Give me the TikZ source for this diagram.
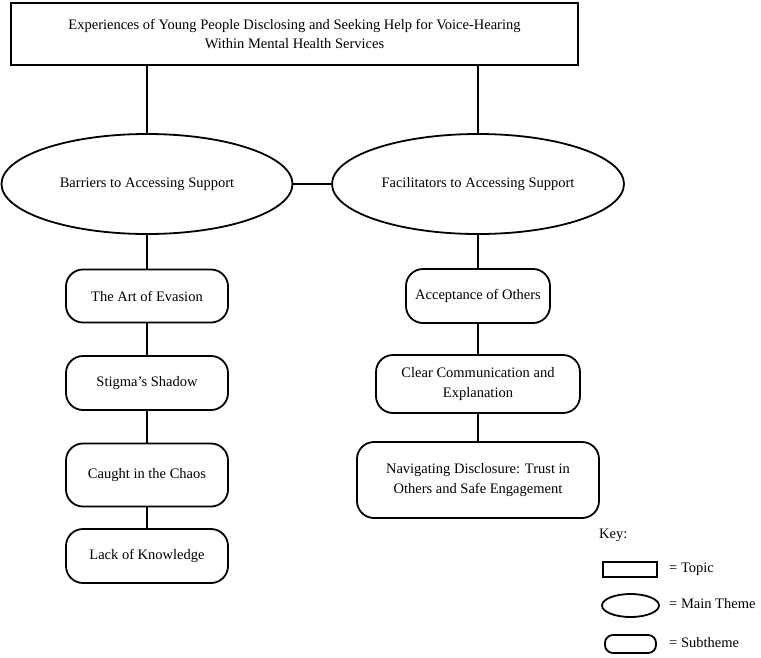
\documentclass[tikz,border=0pt]{standalone}
\usepackage{fontspec}
\setmainfont{Liberation Serif}
\usetikzlibrary{shapes.geometric}
\begin{document}
\begin{tikzpicture}[x=1pt,y=-1pt,
  every node/.style={font=\fontsize{14.5}{19.5}\selectfont, align=center, inner sep=0pt},
  ln/.style={line width=2pt},
  topic/.style={draw, line width=2pt, rectangle},
  mainth/.style={draw, line width=1.8pt, ellipse},
  subth/.style={draw, line width=1.8pt, rectangle, rounded corners=17pt},
  keyrect/.style={draw, line width=1.8pt, rectangle, minimum width=54pt, minimum height=15pt},
  keyell/.style={draw, line width=1.8pt, ellipse, minimum width=57pt, minimum height=23pt},
  keysub/.style={draw, line width=1.8pt, rectangle, rounded corners=8pt, minimum width=51pt, minimum height=18pt},
  keytext/.style={anchor=west}
]
\useasboundingbox (0,0) rectangle (761,657);

\node[topic, minimum width=567pt, minimum height=62pt] (top) at (294.5,34)
  {Experiences of Young People Disclosing and Seeking Help for Voice-Hearing\\Within Mental Health Services};

\node[mainth, minimum width=291pt, minimum height=100pt] (bar) at (147,184) {Barriers to Accessing Support};
\node[mainth, minimum width=292pt, minimum height=100pt] (fac) at (478,184) {Facilitators to Accessing Support};

\node[subth, minimum width=162pt, minimum height=53pt] (art) at (147,296) {The Art of Evasion};
\node[subth, minimum width=162pt, minimum height=54pt] (stig) at (147,383) {Stigma’s Shadow};
\node[subth, minimum width=162pt, minimum height=63pt] (chaos) at (147,475) {Caught in the Chaos};
\node[subth, minimum width=162pt, minimum height=54pt] (lack) at (147,556) {Lack of Knowledge};

\node[subth, minimum width=144pt, minimum height=54pt] (acc) at (478,296) {Acceptance of Others};
\node[subth, minimum width=204pt, minimum height=58pt] (clear) at (478,384) {Clear Communication and\\Explanation};
\node[subth, minimum width=242pt, minimum height=76pt] (nav) at (478,480) {Navigating Disclosure: Trust in\\Others and Safe Engagement};

\draw[ln] (top.south -| bar.north) -- (bar.north);
\draw[ln] (top.south -| fac.north) -- (fac.north);
\draw[ln] (bar.east) -- (fac.west);
\draw[ln] (bar.south) -- (art.north);
\draw[ln] (art.south) -- (stig.north);
\draw[ln] (stig.south) -- (chaos.north);
\draw[ln] (chaos.south) -- (lack.north);
\draw[ln] (fac.south) -- (acc.north);
\draw[ln] (acc.south) -- (clear.north);
\draw[ln] (clear.south) -- (nav.north);

\node[anchor=west] (key) at (599,535) {Key:};
\node[keyrect] (k1) at (630,569.5) {};
\node[keyell] (k2) at (630.5,605.5) {};
\node[keysub] (k3) at (630.5,644) {};
\node[keytext] (t1) at (669,569) {= Topic};
\node[keytext] (t2) at (669,604) {= Main Theme};
\node[keytext] (t3) at (669,643) {= Subtheme};
\end{tikzpicture}
\end{document}
